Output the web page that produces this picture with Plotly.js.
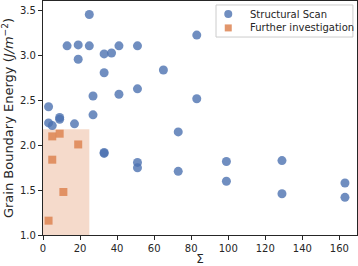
<!DOCTYPE html>
<html>
<head>
<meta charset="utf-8">
<script src="https://cdn.plot.ly/plotly-3.0.1.min.js"></script>
<style>html,body{margin:0;padding:0;background:#fff;}#chart{width:358px;height:266px;}</style>
</head>
<body>
<div id="chart"></div>
<script>
const sigmaScan = [3,3,5,9,9,13,17,19,19,25,25,27,27,33,33,33,33,37,41,41,51,51,51,51,65,73,73,83,83,99,99,129,129,163,163];
const energyScan = [2.43,2.25,2.22,2.31,2.29,3.11,2.24,3.12,2.96,3.46,3.11,2.55,2.34,3.02,2.81,1.92,1.91,3.03,3.11,2.57,3.11,2.63,1.81,1.75,2.84,2.15,1.71,3.23,2.52,1.82,1.60,1.83,1.46,1.58,1.42];
const sigmaFurther = [3,5,5,9,11,19];
const energyFurther = [1.16,1.84,2.10,2.13,1.48,2.01];
const shadeSigma = [0,25];
const shadeEnergy = [1.0,2.18];
const xTicks = [0,20,40,60,80,100,120,140,160];
const yTicks = [1.0,1.5,2.0,2.5,3.0,3.5];
const seriesNames = ['Structural Scan','Further investigation'];
const blue = 'rgba(76,114,176,0.8)';
const orange = 'rgba(221,132,82,0.85)';

const font = {family:'DejaVu Sans', size:10, color:'#262626'};
const traces = [
  {x:sigmaScan, y:energyScan, type:'scatter', mode:'markers', name:seriesNames[0],
   marker:{symbol:'circle', size:9, color:blue, line:{width:0}}},
  {x:sigmaFurther, y:energyFurther, type:'scatter', mode:'markers', name:seriesNames[1],
   marker:{symbol:'square', size:8, color:orange, line:{width:0}}}
];

// custom legend (paper coordinates)
const legX0 = 0.551, legX1 = 0.987, legY0 = 0.846, legY1 = 0.983;
const legRows = [0.944, 0.885];
const legSymX = 0.59, legTextX = 0.652;
const shapes = [
  {type:'rect', xref:'x', yref:'y', x0:shadeSigma[0], x1:shadeSigma[1], y0:shadeEnergy[0], y1:shadeEnergy[1],
   fillcolor:'rgba(221,132,82,0.3)', line:{width:0}, layer:'below'},
  {type:'rect', xref:'paper', yref:'paper', x0:legX0, x1:legX1, y0:legY0, y1:legY1,
   fillcolor:'rgba(255,255,255,0.8)', line:{color:'#cccccc', width:1}},
  {type:'circle', xref:'paper', yref:'paper', xsizemode:'pixel', ysizemode:'pixel',
   xanchor:legSymX, yanchor:legRows[0], x0:-4, x1:4, y0:-4, y1:4, fillcolor:blue, line:{width:0}},
  {type:'rect', xref:'paper', yref:'paper', xsizemode:'pixel', ysizemode:'pixel',
   xanchor:legSymX, yanchor:legRows[1], x0:-3.5, x1:3.5, y0:-3.5, y1:3.5, fillcolor:orange, line:{width:0}}
];
const annotations = seriesNames.map((n,i)=>({xref:'paper', yref:'paper', x:legTextX, y:legRows[i],
  xanchor:'left', yanchor:'middle', text:n, showarrow:false, font:{family:'DejaVu Sans', size:10, color:'#262626'}}));

const layout = {
  width:358, height:266,
  margin:{l:43, r:1, t:1, b:31},
  paper_bgcolor:'#fff', plot_bgcolor:'#fff',
  font:font,
  showlegend:false,
  xaxis:{range:[0,169.5], tickvals:xTicks, ticktext:xTicks.map(String), showgrid:false, zeroline:false,
         showline:true, mirror:true, linecolor:'#262626', linewidth:1.2,
         ticks:'outside', ticklen:4, tickcolor:'#262626', tickfont:font,
         title:{text:'Σ', font:{family:'DejaVu Sans', size:12, color:'#262626'}, standoff:4}},
  yaxis:{range:[1.0,3.61], tickvals:yTicks, ticktext:yTicks.map(v=>v.toFixed(1)), showgrid:false, zeroline:false,
         showline:true, mirror:true, linecolor:'#262626', linewidth:1.2,
         ticks:'outside', ticklen:4, tickcolor:'#262626', tickfont:font,
         title:{text:'Grain Boundary Energy (<i>J/m</i><sup>−2</sup>)', font:{family:'DejaVu Sans', size:13, color:'#262626'}, standoff:3}},
  shapes:shapes,
  annotations:annotations
};
Plotly.newPlot('chart', traces, layout, {displayModeBar:false, staticPlot:true});
</script>
</body>
</html>
